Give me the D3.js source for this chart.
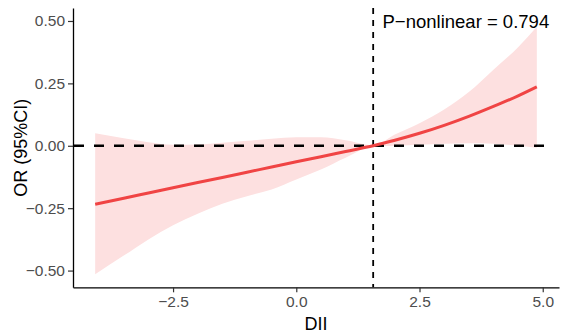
<!DOCTYPE html>
<html>
<head>
<meta charset="utf-8">
<script src="https://cdn.jsdelivr.net/npm/d3@7"></script>
<style>
  body { margin: 0; background: #fff; }
  text { font-family: "Liberation Sans", Arial, Helvetica, sans-serif; }
</style>
</head>
<body>
<svg id="chart" width="567" height="336"></svg>
<script>
// DII values along the curve
var dii   = [-4.08, -3.5, -3.0, -2.5, -2.0, -1.5, -1.0, -0.5, 0.0, 0.5, 1.0, 1.56, 2.0, 2.5, 3.0, 3.5, 4.0, 4.5, 4.88];
// estimated OR (log scale) and 95% CI
var orFit = [-0.234, -0.210, -0.189, -0.168, -0.147, -0.127, -0.106, -0.085, -0.064, -0.044, -0.023, 0.000, 0.022, 0.050, 0.082, 0.118, 0.158, 0.200, 0.236];
var upper = [0.050, 0.030, 0.014, 0.004, 0.005, 0.012, 0.020, 0.028, 0.034, 0.034, 0.022, 0.002, 0.045, 0.090, 0.145, 0.215, 0.305, 0.395, 0.477];
var lower = [-0.515, -0.440, -0.375, -0.318, -0.272, -0.232, -0.202, -0.175, -0.135, -0.095, -0.048, -0.002, 0.000, 0.004, 0.008, 0.010, 0.008, 0.000, -0.008];

var xTicks = [-2.5, 0.0, 2.5, 5.0];
var yTicks = [-0.50, -0.25, 0.00, 0.25, 0.50];
var refX = 1.56;
var pLabel = "P\u2212nonlinear = 0.794";

var data = dii.map(function(d, i){
    return {x: d, y: orFit[i], lo: lower[i], hi: upper[i]};
});

var svg = d3.select("#chart");
var pLeft = 73, pRight = 559, pTop = 8, pBottom = 287.3;

var x = d3.scaleLinear().domain([-4.53, 5.33]).range([pLeft, pRight]);
var y = d3.scaleLinear().domain([-0.567, 0.552]).range([pBottom, pTop]);

// ribbon
var area = d3.area()
    .x(function(d){ return x(d.x); })
    .y0(function(d){ return y(d.lo); })
    .y1(function(d){ return y(d.hi); })
    .curve(d3.curveMonotoneX);
svg.append("path").datum(data)
    .attr("d", area)
    .attr("fill", "#fde0e0");

// reference lines
svg.append("line")
    .attr("x1", pLeft).attr("x2", x(5.0) + 3)
    .attr("y1", y(0)).attr("y2", y(0))
    .attr("stroke", "#000").attr("stroke-width", 2.6)
    .attr("stroke-dasharray", "10,10").attr("stroke-dashoffset", -1);
svg.append("line")
    .attr("x1", x(refX)).attr("x2", x(refX))
    .attr("y1", pTop).attr("y2", pBottom)
    .attr("stroke", "#000").attr("stroke-width", 1.8)
    .attr("stroke-dasharray", "6,6");

// fitted line
var line = d3.line()
    .x(function(d){ return x(d.x); })
    .y(function(d){ return y(d.y); })
    .curve(d3.curveMonotoneX);
svg.append("path").datum(data)
    .attr("d", line)
    .attr("fill", "none")
    .attr("stroke", "#f04444")
    .attr("stroke-width", 3);

// axes
var fmtX = function(d){ return d3.format(".1f")(d).replace("-", "\u2212"); };
var fmtY = function(d){ return d3.format(".2f")(d).replace("-", "\u2212"); };
var xAxis = svg.append("g")
    .attr("transform", "translate(0," + pBottom + ")")
    .call(d3.axisBottom(x).tickValues(xTicks).tickFormat(fmtX).tickSize(5).tickPadding(4).tickSizeOuter(0));
var yAxis = svg.append("g")
    .attr("transform", "translate(" + pLeft + ",0)")
    .call(d3.axisLeft(y).tickValues(yTicks).tickFormat(fmtY).tickSize(5).tickPadding(3).tickSizeOuter(0));

[xAxis, yAxis].forEach(function(g){
    g.select(".domain").attr("stroke", "#000").attr("stroke-width", 1.3);
    g.selectAll(".tick line").attr("stroke", "#333").attr("stroke-width", 1.2);
    g.selectAll(".tick text")
        .attr("fill", "#4d4d4d")
        .style("font-size", "15.5px");
});

// titles
svg.append("text")
    .attr("x", (pLeft + pRight) / 2).attr("y", 330)
    .attr("text-anchor", "middle")
    .style("font-size", "18px")
    .attr("fill", "#000")
    .text("DII");
svg.append("text")
    .attr("transform", "translate(27," + ((pTop + pBottom) / 2) + ") rotate(-90)")
    .attr("text-anchor", "middle")
    .style("font-size", "18px")
    .attr("fill", "#000")
    .text("OR (95%CI)");

// annotation
svg.append("text")
    .attr("x", x(1.75)).attr("y", y(0.5))
    .attr("dy", "0.36em")
    .style("font-size", "18.5px")
    .attr("fill", "#000")
    .text(pLabel);
</script>
</body>
</html>
